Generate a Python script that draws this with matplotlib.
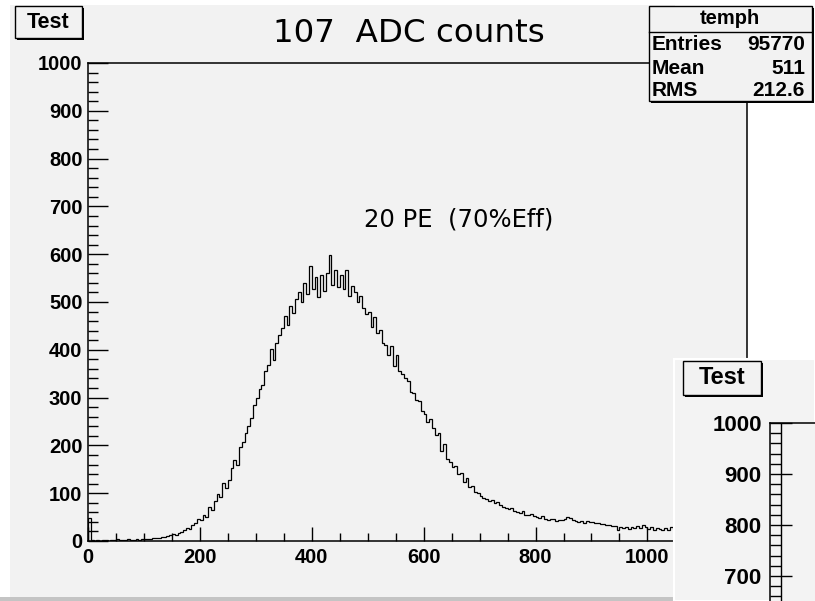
import numpy as np
import matplotlib.pyplot as plt
from matplotlib.patches import Rectangle
from matplotlib.ticker import MultipleLocator

W, H = 815, 601

# ADC spectrum, 5-count bins starting at 0
bin_width = 5
counts = [
    48, 2, 1, 3, 1, 2, 2, 1, 3, 2, 4, 2, 3, 2, 4, 3, 2, 4, 3, 5,
    4, 5, 4, 6, 7, 6, 8, 9, 11, 12, 14, 13, 17, 19, 24, 27, 26, 33, 38, 45,
    43, 54, 50, 72, 64, 84, 98, 92, 122, 110, 128, 152, 170, 160, 196, 208, 226, 240, 258, 284,
    300, 318, 326, 356, 368, 402, 378, 414, 430, 446, 470, 452, 492, 478, 506, 520, 500, 540, 516, 576,
    528, 552, 510, 556, 524, 560, 598, 536, 566, 532, 556, 528, 566, 512, 534, 520, 500, 512, 488, 474,
    480, 448, 468, 436, 442, 414, 410, 390, 408, 366, 390, 356, 350, 340, 334, 312, 310, 296, 292, 272,
    266, 250, 256, 236, 222, 226, 188, 202, 172, 166, 154, 156, 140, 142, 124, 132, 114, 116, 102, 100,
    94, 90, 88, 84, 86, 80, 82, 76, 72, 70, 66, 68, 62, 60, 58, 62, 55, 54, 56, 52,
    50, 48, 52, 46, 44, 47, 45, 42, 44, 43, 46, 50, 48, 44, 42, 40, 41, 38, 42, 39,
    40, 37, 38, 35, 36, 33, 34, 31, 32, 22, 30, 27, 29, 26, 30, 28, 31, 27, 34, 29,
    26, 30, 24, 28, 25, 23, 27, 24, 30, 26, 28, 25,
]
edges = np.arange(len(counts) + 1) * bin_width

stats_name = "temph"
stats_rows = [("Entries", "95770"), ("Mean", "511"), ("RMS", "212.6")]
title_text = "107  ADC counts"
note_text = "20 PE  (70%Eff)"
pad_label = "Test"


def fx(px):
    return px / W


def fy(py):
    return 1 - py / H


def box(x0, y0, x1, y1, z, fc="#f2f2f2", shadow=True):
    # ROOT-style pave with a small drop shadow
    if shadow:
        fig.patches.append(Rectangle((fx(x0 + 2), fy(y1 + 2)), fx(x1 - x0), (y1 - y0) / H,
                                     transform=fig.transFigure, fc="black", ec="none", zorder=z))
    fig.patches.append(Rectangle((fx(x0), fy(y1)), fx(x1 - x0), (y1 - y0) / H,
                                 transform=fig.transFigure, fc=fc, ec="black", lw=1.0, zorder=z + 0.1))


plt.rcParams["font.family"] = ["Liberation Sans", "DejaVu Sans"]
plt.rcParams["font.weight"] = "bold"

fig = plt.figure(figsize=(W / 100, H / 100), dpi=100, facecolor="white")

# canvas background and the lower border strip
fig.patches.append(Rectangle((fx(10), fy(597)), fx(665), 592 / H, transform=fig.transFigure,
                             fc="#f2f2f2", ec="none", zorder=-1))
fig.patches.append(Rectangle((0, 0), fx(675), 4 / H, transform=fig.transFigure,
                             fc="#c4c4c4", ec="none", zorder=-1))

# main histogram frame
ax = fig.add_axes([fx(88), fy(541), fx(747 - 88), (541 - 63) / H])
ax.set_facecolor("#f2f2f2")
ax.stairs(counts, edges, color="black", lw=0.9)
ax.set_xlim(0, 1178)
ax.set_ylim(0, 1000)
ax.xaxis.set_major_locator(MultipleLocator(200))
ax.xaxis.set_minor_locator(MultipleLocator(50))
ax.yaxis.set_major_locator(MultipleLocator(100))
ax.yaxis.set_minor_locator(MultipleLocator(20))
ax.tick_params(axis="both", which="both", direction="in", width=1.0, labelsize=14.5)
ax.tick_params(axis="y", which="major", length=14.5, pad=4)
ax.tick_params(axis="y", which="minor", length=7.2)
ax.tick_params(axis="x", which="major", length=10, pad=5)
ax.tick_params(axis="x", which="minor", length=5.5)
for s in ax.spines.values():
    s.set_linewidth(1.1)

fig.text(fx(409), fy(33), title_text, family="DejaVu Sans", weight="normal",
         fontsize=23.4, ha="center", va="center", zorder=7)
fig.text(fx(459), fy(220), note_text, family="DejaVu Sans", weight="normal",
         fontsize=17.5, ha="center", va="center", zorder=7)

# pad label
box(15, 6, 82, 38, 6)
fig.text(fx(48.5), fy(22), pad_label, fontsize=15.5, ha="center", va="center", zorder=7)

# statistics box
box(649, 6, 812, 101, 6)
fig.lines.append(plt.Line2D([fx(649), fx(812)], [fy(32), fy(32)], transform=fig.transFigure,
                            color="black", lw=1.0, zorder=7))
fig.text(fx(730), fy(19), stats_name, fontsize=14.5, ha="center", va="center", zorder=7)
for i, (k, v) in enumerate(stats_rows):
    yy = fy(45 + 23 * i)
    fig.text(fx(652), yy, k, fontsize=15, ha="left", va="center", zorder=7)
    fig.text(fx(805), yy, v, fontsize=15, ha="right", va="center", zorder=7)

# second pad overlapping the lower right corner
fig.patches.append(Rectangle((fx(674), 0), fx(W - 674), 242 / H, transform=fig.transFigure,
                             fc="#f3f3f3", ec="white", lw=1.5, zorder=2))
ax2 = fig.add_axes([fx(770), -0.039, 0.6, fy(423) + 0.039])
ax2.set_zorder(3)
ax2.set_facecolor("#f3f3f3")
ax2.set_xlim(0, 1000)
ax2.set_ylim(605, 1000)
ax2.yaxis.set_major_locator(MultipleLocator(100))
ax2.yaxis.set_minor_locator(MultipleLocator(20))
ax2.set_xticks([])
ax2.tick_params(axis="y", which="both", direction="in", width=1.0, labelsize=16)
ax2.tick_params(axis="y", which="major", length=16, pad=6)
ax2.tick_params(axis="y", which="minor", length=8)
ax2.spines["right"].set_visible(False)
ax2.spines["bottom"].set_visible(False)
for s in ax2.spines.values():
    s.set_linewidth(1.1)
ax2.plot([11 / 489, 11 / 489], [0, 1], transform=ax2.transAxes, color="black", lw=1.0)

box(683, 361, 761, 395, 8)
fig.text(fx(722), fy(378), pad_label, fontsize=17, ha="center", va="center", zorder=9)

fig.savefig("out.png", dpi=100, facecolor="white")
